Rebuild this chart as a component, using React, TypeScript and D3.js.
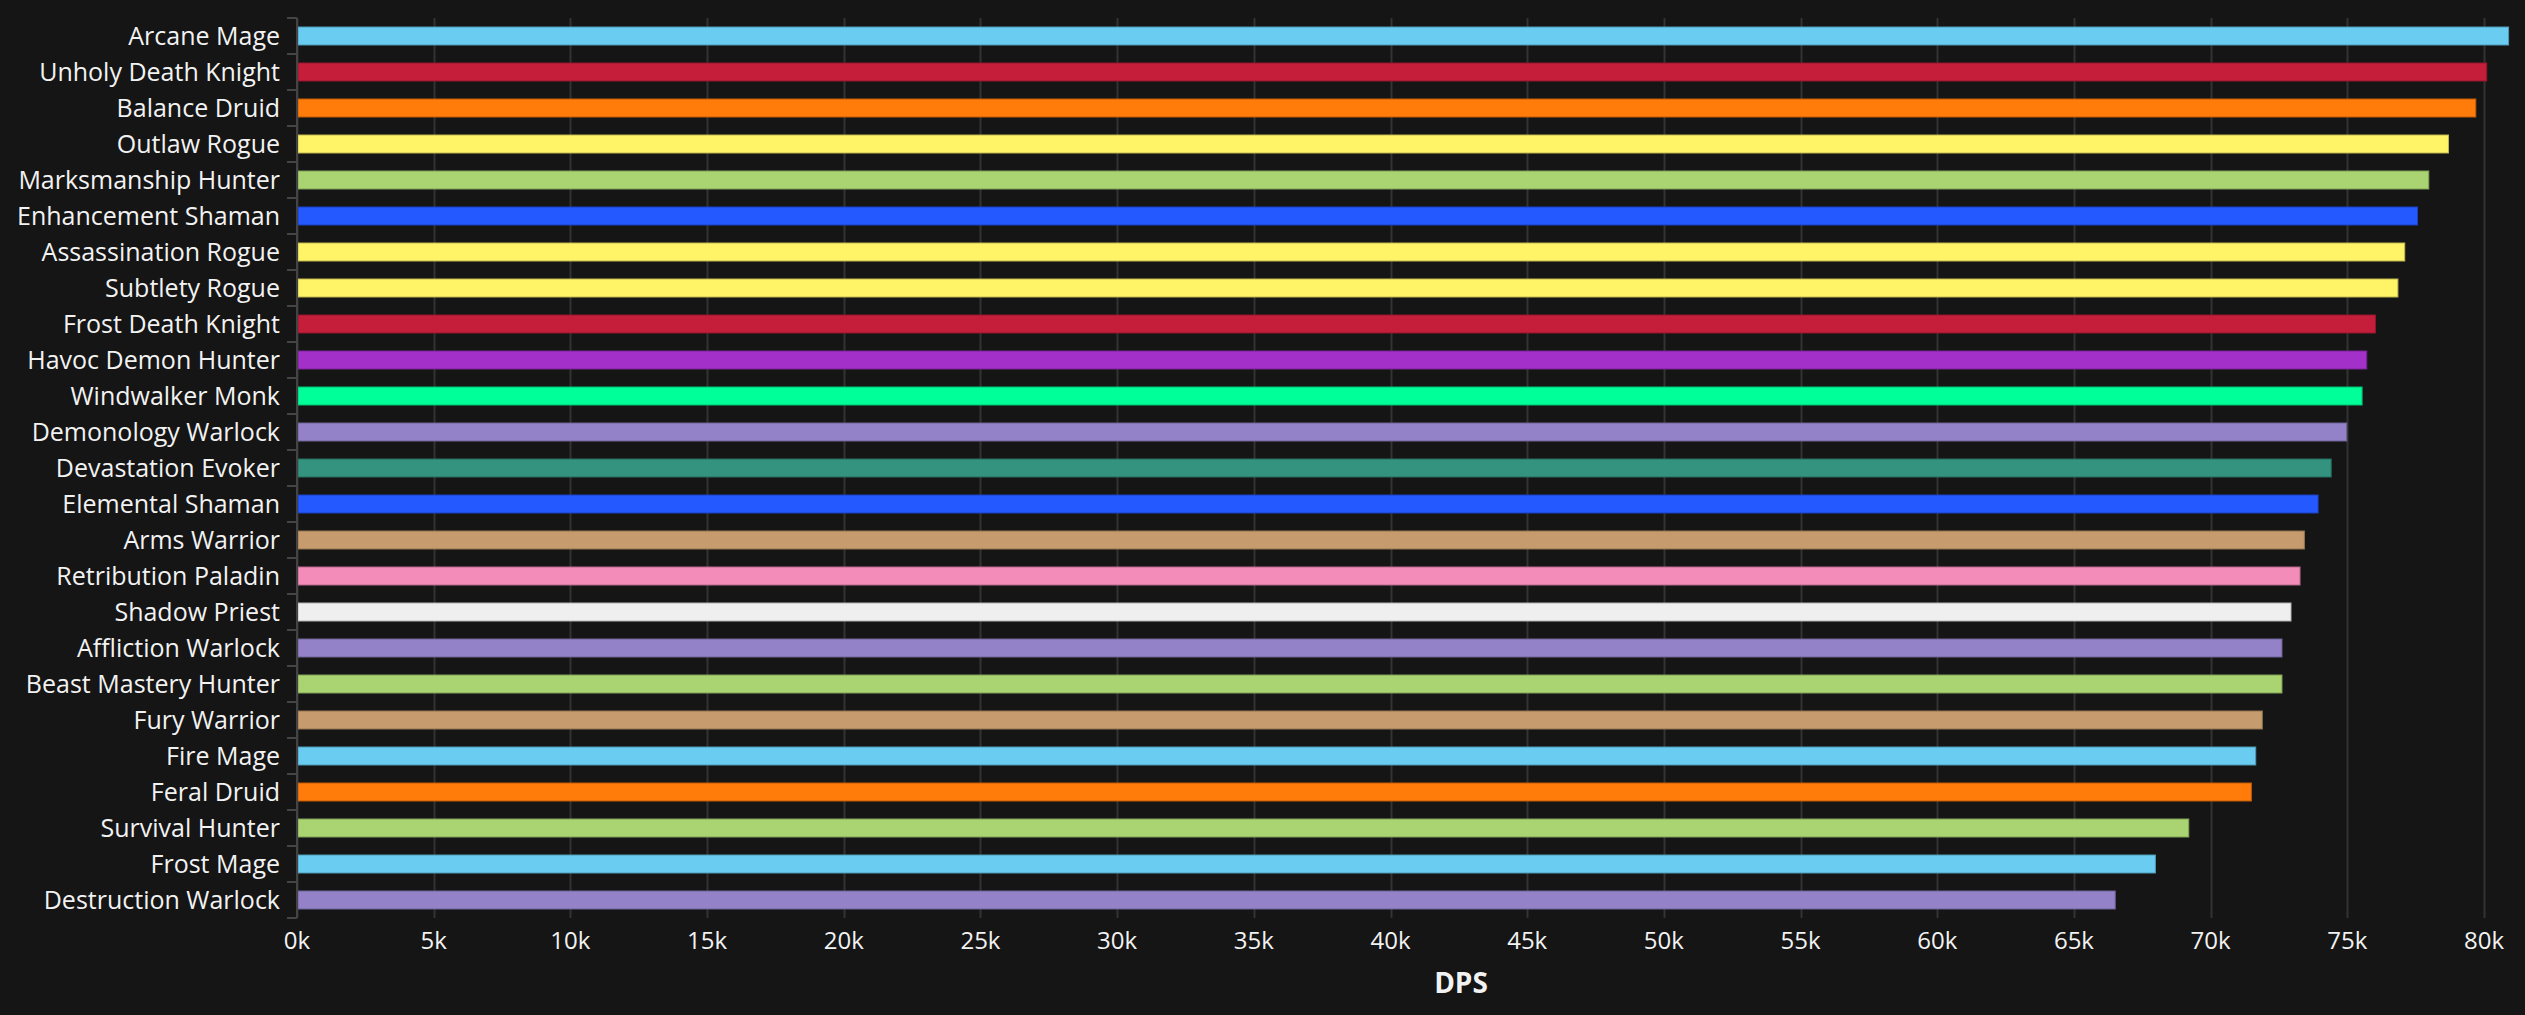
import * as d3 from 'd3';

const specs = [
  'Arcane Mage',
  'Unholy Death Knight',
  'Balance Druid',
  'Outlaw Rogue',
  'Marksmanship Hunter',
  'Enhancement Shaman',
  'Assassination Rogue',
  'Subtlety Rogue',
  'Frost Death Knight',
  'Havoc Demon Hunter',
  'Windwalker Monk',
  'Demonology Warlock',
  'Devastation Evoker',
  'Elemental Shaman',
  'Arms Warrior',
  'Retribution Paladin',
  'Shadow Priest',
  'Affliction Warlock',
  'Beast Mastery Hunter',
  'Fury Warrior',
  'Fire Mage',
  'Feral Druid',
  'Survival Hunter',
  'Frost Mage',
  'Destruction Warlock',
];

const dps = [
  80900, 80100, 79700, 78700, 77980, 77570, 77100, 76850, 76030, 75710, 75540, 74980, 74410,
  73930, 73430, 73270, 72940, 72610, 72610, 71890, 71650, 71490, 69200, 67980, 66510,
];

const classes = [
  'Mage', 'Death Knight', 'Druid', 'Rogue', 'Hunter', 'Shaman', 'Rogue', 'Rogue', 'Death Knight',
  'Demon Hunter', 'Monk', 'Warlock', 'Evoker', 'Shaman', 'Warrior', 'Paladin', 'Priest',
  'Warlock', 'Hunter', 'Warrior', 'Mage', 'Druid', 'Hunter', 'Mage', 'Warlock',
];

const classColors: Record<string, string> = {
  Mage: '#69ccf0',
  'Death Knight': '#c41e3a',
  Druid: '#ff7c0a',
  Rogue: '#fff468',
  Hunter: '#aad372',
  Shaman: '#2459ff',
  'Demon Hunter': '#a330c9',
  Monk: '#00ff98',
  Warlock: '#9482c9',
  Evoker: '#33937f',
  Warrior: '#c69b6d',
  Paladin: '#f48cba',
  Priest: '#efefef',
};

const xTicks = d3.range(0, 80001, 5000);

const WIDTH = 2525;
const HEIGHT = 1015;
const FONT = '"Open Sans", "Noto Sans", sans-serif';

export default function App() {
  const x = d3.scaleLinear().domain([0, 80000]).range([297, 2484]);
  const y = d3.scaleBand<string>().domain(specs).range([18, 918]).paddingInner(0.5).paddingOuter(0.25);
  const step = y.step();
  const bandTop = 18;

  return (
    <svg
      width={WIDTH}
      height={HEIGHT}
      style={{ position: 'absolute', left: 0, top: 0, background: '#151515', fontFamily: FONT }}
    >
      <rect width={WIDTH} height={HEIGHT} fill="#151515" />

      {/* grid */}
      {xTicks.map((t) => (
        <line
          key={t}
          x1={Math.round(x(t)) + 0.5}
          x2={Math.round(x(t)) + 0.5}
          y1={bandTop}
          y2={918}
          stroke="#333"
          strokeWidth={2}
        />
      ))}

      {/* bars */}
      {specs.map((s, i) => (
        <rect
          key={s}
          x={x(0) + 1}
          y={y(s)!}
          width={x(dps[i]) - x(0) - 1}
          height={y.bandwidth()}
          fill={classColors[classes[i]]}
          stroke={d3.color(classColors[classes[i]])!.darker(0.8).formatHex()}
          strokeWidth={1}
        />
      ))}

      {/* y axis */}
      <line x1={297} x2={297} y1={bandTop} y2={918} stroke="#444" strokeWidth={2} />
      {d3.range(specs.length + 1).map((k) => (
        <line
          key={k}
          x1={287}
          x2={297}
          y1={bandTop + k * step}
          y2={bandTop + k * step}
          stroke="#444"
          strokeWidth={2}
        />
      ))}
      {specs.map((s) => (
        <text
          key={s}
          x={280}
          y={y(s)! + y.bandwidth() / 2}
          dy="0.37em"
          textAnchor="end"
          fill="#f2f2f2"
          fontSize={25}
        >
          {s}
        </text>
      ))}

      {/* x axis labels */}
      {xTicks.map((t) => (
        <text key={t} x={x(t)} y={949} textAnchor="middle" fill="#f2f2f2" fontSize={24}>
          {`${t / 1000}k`}
        </text>
      ))}
      <text x={1461} y={993} textAnchor="middle" fill="#f2f2f2" fontSize={28} fontWeight="bold">
        DPS
      </text>
    </svg>
  );
}
